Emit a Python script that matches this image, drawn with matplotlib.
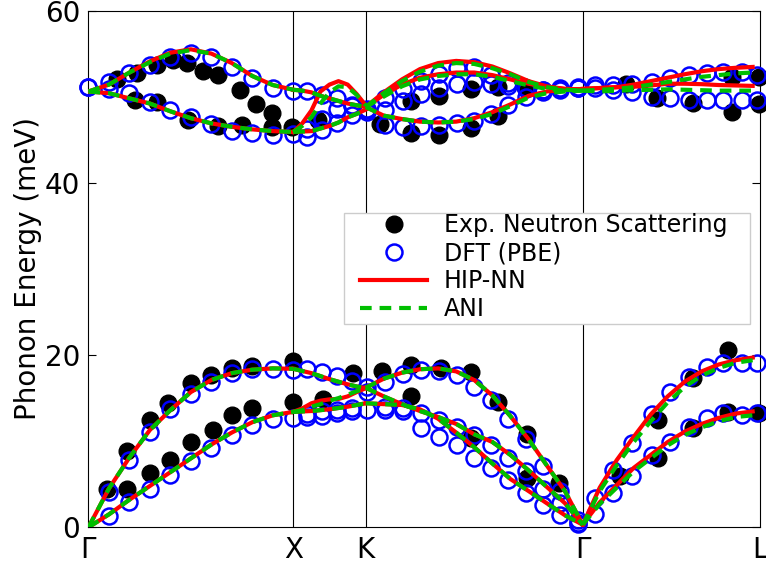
import numpy as np
import matplotlib
matplotlib.use("Agg")
import matplotlib.pyplot as plt
from matplotlib.patches import Rectangle

# high-symmetry points along the path
sym_labels = ["Γ", "X", "K", "Γ", "L"]
sym_pos = [0.0, 1.0, 1.354, 2.414, 3.280]

# ---------------- model dispersions (one q grid per segment) ----------------
q_gx = [0.0, 0.1, 0.2, 0.3, 0.4, 0.5, 0.6, 0.7, 0.8, 0.9, 1.0]
q_xk = [1.0, 1.044, 1.089, 1.133, 1.177, 1.221, 1.266, 1.310, 1.354]
q_kg = [1.354, 1.442, 1.531, 1.619, 1.708, 1.796, 1.884, 1.973, 2.061,
        2.150, 2.238, 2.327, 2.414]
q_gl = [2.414, 2.497, 2.580, 2.663, 2.746, 2.829, 2.912, 2.995, 3.078,
        3.161, 3.244]

hip_gx = [
    [0.0, 1.5, 3.2, 4.8, 6.4, 8.0, 9.6, 11.0, 12.2, 13.0, 13.4],
    [0.0, 4.5, 8.1, 11.3, 13.6, 15.7, 17.1, 17.9, 18.3, 18.45, 18.4],
    [50.6, 50.4, 49.8, 49.2, 48.3, 47.5, 46.9, 46.5, 46.2, 46.0, 45.9],
    [50.6, 51.4, 52.8, 54.1, 55.1, 55.5, 55.0, 53.9, 52.4, 51.35, 50.8],
]
ani_gx = [
    [0.0, 1.5, 3.2, 4.8, 6.4, 8.0, 9.6, 11.0, 12.2, 13.0, 13.4],
    [0.0, 4.5, 8.1, 11.3, 13.6, 15.7, 17.1, 17.9, 18.3, 18.45, 18.4],
    [50.6, 50.4, 49.8, 49.2, 48.3, 47.5, 46.9, 46.5, 46.2, 46.0, 45.9],
    [50.6, 51.4, 52.8, 54.0, 55.0, 55.4, 55.0, 53.9, 52.4, 51.35, 50.8],
]

hip_xk = [
    [13.4, 13.45, 13.5, 13.6, 13.7, 13.85, 14.0, 14.2, 14.4],
    [13.4, 13.8, 14.4, 14.7, 14.85, 14.9, 15.2, 15.7, 16.15],
    [18.4, 18.15, 17.9, 17.55, 17.2, 16.9, 16.6, 16.35, 16.15],
    [45.9, 45.95, 46.0, 46.3, 46.6, 47.0, 47.6, 48.0, 48.5],
    [45.9, 46.9, 48.4, 50.6, 51.4, 51.8, 51.4, 50.3, 49.0],
    [50.8, 50.7, 50.5, 50.1, 49.8, 49.5, 49.2, 49.0, 48.8],
]
ani_xk = [
    [13.4, 13.45, 13.5, 13.6, 13.7, 13.85, 14.0, 14.2, 14.4],
    [13.4, 13.6, 14.0, 14.3, 14.7, 15.0, 15.4, 15.8, 16.15],
    [18.4, 18.15, 17.9, 17.55, 17.2, 16.9, 16.6, 16.35, 16.15],
    [45.9, 45.95, 46.0, 46.3, 46.6, 47.0, 47.6, 48.0, 48.5],
    [45.9, 46.6, 47.6, 49.2, 50.5, 51.2, 51.1, 50.2, 49.0],
    [50.8, 50.7, 50.5, 50.1, 49.8, 49.5, 49.2, 49.0, 48.8],
]

hip_kg = [
    [16.2, 17.25, 17.95, 18.35, 18.45, 18.1, 17.1, 15.3, 12.9, 10.2, 7.2, 4.2, 0.3],
    [16.2, 15.2, 14.3, 13.5, 12.8, 12.0, 10.8, 9.9, 8.4, 6.6, 4.7, 2.8, 0.3],
    [14.4, 14.3, 14.2, 13.7, 12.6, 11.0, 9.3, 7.4, 5.6, 4.2, 2.8, 1.4, 0.3],
    [48.8, 50.5, 52.0, 53.2, 53.9, 54.15, 54.0, 53.5, 52.7, 51.8, 51.2, 50.9, 50.85],
    [48.8, 50.2, 51.4, 52.2, 52.6, 52.8, 52.8, 52.5, 52.0, 51.5, 51.1, 50.9, 50.85],
    [48.8, 47.8, 47.4, 47.1, 47.0, 47.1, 47.5, 48.2, 49.1, 50.1, 50.6, 50.8, 50.85],
]
ani_kg = [
    [16.2, 17.25, 17.95, 18.35, 18.45, 18.1, 17.1, 15.3, 12.9, 10.2, 7.2, 4.2, 0.3],
    [16.2, 15.2, 14.3, 13.5, 12.8, 12.0, 10.8, 9.9, 8.4, 6.6, 4.7, 2.8, 0.3],
    [14.4, 14.3, 14.2, 13.7, 12.6, 11.0, 9.3, 7.4, 5.6, 4.2, 2.8, 1.4, 0.3],
    [48.8, 50.4, 51.8, 52.9, 53.6, 53.9, 53.8, 53.3, 52.6, 51.7, 51.1, 50.8, 50.7],
    [48.8, 50.0, 51.2, 52.0, 52.4, 52.6, 52.6, 52.3, 51.8, 51.3, 50.9, 50.7, 50.7],
    [48.8, 47.8, 47.4, 47.1, 47.0, 47.1, 47.4, 48.0, 48.9, 49.9, 50.4, 50.6, 50.7],
]

hip_gl = [
    [0.3, 2.9, 4.9, 6.9, 8.4, 9.9, 11.1, 12.0, 12.7, 13.2, 13.45],
    [0.3, 4.6, 7.8, 10.5, 13.1, 15.2, 16.9, 18.1, 18.9, 19.4, 19.7],
    [50.9, 51.0, 51.1, 51.15, 51.3, 51.5, 51.5, 51.45, 51.35, 51.3, 51.25],
    [50.9, 51.0, 51.1, 51.4, 51.8, 52.2, 52.6, 52.95, 53.2, 53.35, 53.45],
]
ani_gl = [
    [0.3, 2.7, 4.6, 6.5, 8.0, 9.5, 10.7, 11.6, 12.3, 12.8, 13.0],
    [0.3, 4.2, 7.2, 9.9, 12.3, 14.5, 16.3, 17.6, 18.5, 19.1, 19.4],
    [50.7, 50.6, 50.7, 50.75, 50.8, 50.85, 50.8, 50.75, 50.7, 50.7, 50.7],
    [50.7, 50.8, 50.9, 51.1, 51.4, 51.7, 52.0, 52.3, 52.5, 52.7, 52.8],
]

# ---------------- DFT (PBE) points ----------------
nan = np.nan
dft_q_gx = [0.0, 0.1, 0.2, 0.3, 0.4, 0.5, 0.6, 0.7, 0.8, 0.9, 1.0]
dft_gx = [
    [nan, 1.35, 2.97, 4.45, 6.07, 7.70, 9.24, 10.72, 11.88, 12.57, 12.72],
    [nan, 4.13, 7.81, 11.03, 13.73, 15.44, 16.83, 17.88, 18.38, 18.38, 18.26],
    [51.08, 50.9, 50.46, 49.41, 48.45, 47.60, 46.83, 46.05, 45.74, 45.55, 45.66],
    [51.08, 51.74, 52.71, 53.67, 54.64, 55.03, 54.57, 53.48, 52.13, 50.97, 50.69],
]
dft_q_xk = [1.066, 1.139, 1.213, 1.286, 1.359]
dft_xk = [
    [12.8, 12.9, 13.3, 13.5, 13.6],
    [13.1, 13.5, 13.6, 13.8, 15.7],
    [18.4, 18.0, 17.6, 17.0, 16.3],
    [45.35, 46.1, 46.9, 47.9, 48.25],
    [46.2, 47.4, 48.6, 48.9, 48.6],
    [50.6, 50.2, 49.8, 49.0, 48.5],
]
dft_q_kg = [1.448, 1.536, 1.624, 1.713, 1.800, 1.883, 1.966, 2.049, 2.137,
            2.220, 2.303, 2.391]
dft_kg = [
    [16.9, 17.8, 18.25, 18.2, 17.7, 16.3, 14.75, 12.6, 10.2, 7.15, 4.25, 0.4],
    [14.0, 13.8, 13.3, 12.4, 11.6, 10.7, 9.6, 8.0, 6.5, 4.5, 2.8, 0.8],
    [13.6, 13.5, 11.5, 10.5, 9.6, 8.0, 6.9, 5.5, 3.95, 2.6, 1.4, 0.5],
    [49.8, 50.9, 51.8, 52.6, 53.3, 53.4, 52.5, 51.6, 51.0, 50.8, 51.0, 51.1],
    [48.5, 49.5, 50.3, 51.0, 51.5, 51.7, 51.5, 51.2, 50.9, 50.8, 50.9, 51.0],
    [46.7, 46.5, 46.6, 46.7, 46.9, 47.2, 48.0, 49.0, 50.0, 50.5, 50.8, 51.0],
]
dft_q_gl = [2.474, 2.562, 2.655, 2.753, 2.841, 2.934, 3.021, 3.100, 3.193, 3.266]
dft_gl = [
    [1.6, 3.95, 5.9, 8.4, 9.95, 11.7, 12.65, 13.25, 13.05, 13.25],
    [3.4, 6.65, 9.75, 13.2, 15.75, 17.5, 18.65, 19.05, 19.05, 19.05],
    [51.0, 50.77, 50.58, 50.0, 49.81, 49.61, 49.61, 49.61, 49.61, 49.61],
    [51.35, 51.35, 51.5, 51.74, 52.13, 52.51, 52.71, 52.9, 52.9, 52.5],
]

# ---------------- experimental neutron data ----------------
exp_q = [0.09, 0.19, 0.30, 0.39, 0.50, 0.60, 0.70, 0.80, 1.00,
         0.19, 0.30, 0.40, 0.50, 0.61, 0.70, 0.80, 1.00,
         1.147, 1.294,
         1.433, 1.573, 1.721, 1.869, 1.573, 1.869, 2.0, 2.141, 2.141, 2.297,
         2.597, 2.782, 2.782, 2.953, 2.953, 3.124, 3.124, 3.275,
         0.14, 0.235, 0.333, 0.414, 0.48, 0.561, 0.634, 0.74, 0.82, 0.895, 0.993,
         0.227, 0.333, 0.488, 0.634, 0.748, 0.895,
         1.123,
         1.425, 1.573, 1.573, 1.713, 1.713, 1.869, 1.869, 2.0, 2.0, 2.132,
         2.626, 2.777, 2.953, 3.144, 3.144, 3.275, 3.275]
exp_e = [4.4, 8.9, 12.4, 14.4, 16.7, 17.7, 18.5, 18.7, 19.3,
         4.4, 6.3, 7.8, 9.9, 11.3, 13.0, 13.9, 14.5,
         14.9, 17.9,
         18.2, 18.9, 18.5, 18.0, 15.3, 10.4, 14.5, 10.8, 5.7, 5.1,
         5.9, 12.4, 8.0, 17.3, 11.5, 20.6, 13.4, 13.3,
         52.0, 52.8, 53.7, 54.2, 53.9, 53.0, 52.5, 50.8, 49.2, 48.1, 46.5,
         49.6, 49.4, 47.3, 46.6, 46.7, 46.5,
         47.3,
         46.8, 49.5, 45.8, 50.1, 45.6, 50.9, 46.4, 51.1, 47.7, 51.1,
         51.5, 49.9, 49.3, 52.3, 48.2, 52.3, 49.1]

red = "#ff0000"
green = "#00bf00"
blue = "#0000ff"

fig = plt.figure(figsize=(7.66, 5.69), dpi=100)
ax = fig.add_axes([0.1155, 0.0733, 0.8767, 0.9082])

ax.plot(exp_q, exp_e, "o", color="k", ms=12, zorder=2, clip_on=False,
        label="Exp. Neutron Scattering")

dft_sets = [(dft_q_gx, dft_gx), (dft_q_xk, dft_xk), (dft_q_kg, dft_kg), (dft_q_gl, dft_gl)]
first = True
for qs, branches in dft_sets:
    for b in branches:
        ax.plot(qs, b, "o", mfc="none", mec=blue, mew=1.8, ms=11.5, zorder=3,
                clip_on=False, label="DFT (PBE)" if first else None)
        first = False

segments = [(q_gx, hip_gx, ani_gx), (q_xk, hip_xk, ani_xk),
            (q_kg, hip_kg, ani_kg), (q_gl, hip_gl, ani_gl)]
first = True
for qs, hip, ani in segments:
    for b in hip:
        ax.plot(qs, b, "-", color=red, lw=3, zorder=4,
                label="HIP-NN" if first else None)
        first = False
first = True
for qs, hip, ani in segments:
    for b in ani:
        ax.plot(qs, b, "--", color=green, lw=3, dashes=(2.8, 1.9), zorder=5,
                label="ANI" if first else None)
        first = False

for p in sym_pos[1:-1]:
    ax.axvline(p, color="k", lw=0.8, zorder=1)

ax.set_xlim(sym_pos[0], sym_pos[-1])
ax.set_ylim(0, 60)
ax.set_xticks(sym_pos)
ax.set_xticklabels(sym_labels)
ax.set_yticks([0, 20, 40, 60])
ax.tick_params(axis="x", length=0, pad=6, labelsize=20)
ax.tick_params(axis="y", direction="in", length=6, right=True, pad=6, labelsize=20)
ax.set_ylabel("Phonon Energy (meV)", fontsize=20, labelpad=2)

# legend box drawn as its own opaque patch, entries placed inside it
box = Rectangle((0.3805, 0.3934), 0.6046, 0.2148, transform=ax.transAxes,
                facecolor="white", edgecolor="0.8", lw=1, zorder=6)
ax.add_patch(box)
leg = ax.legend(loc="upper left", bbox_to_anchor=(0.4043, 0.6076), fontsize=17,
                frameon=False, borderpad=0, borderaxespad=0,
                labelspacing=0.165, handlelength=2.84, handletextpad=0.72,
                numpoints=1)
leg.set_zorder(7)

fig.savefig("out.png", dpi=100)
